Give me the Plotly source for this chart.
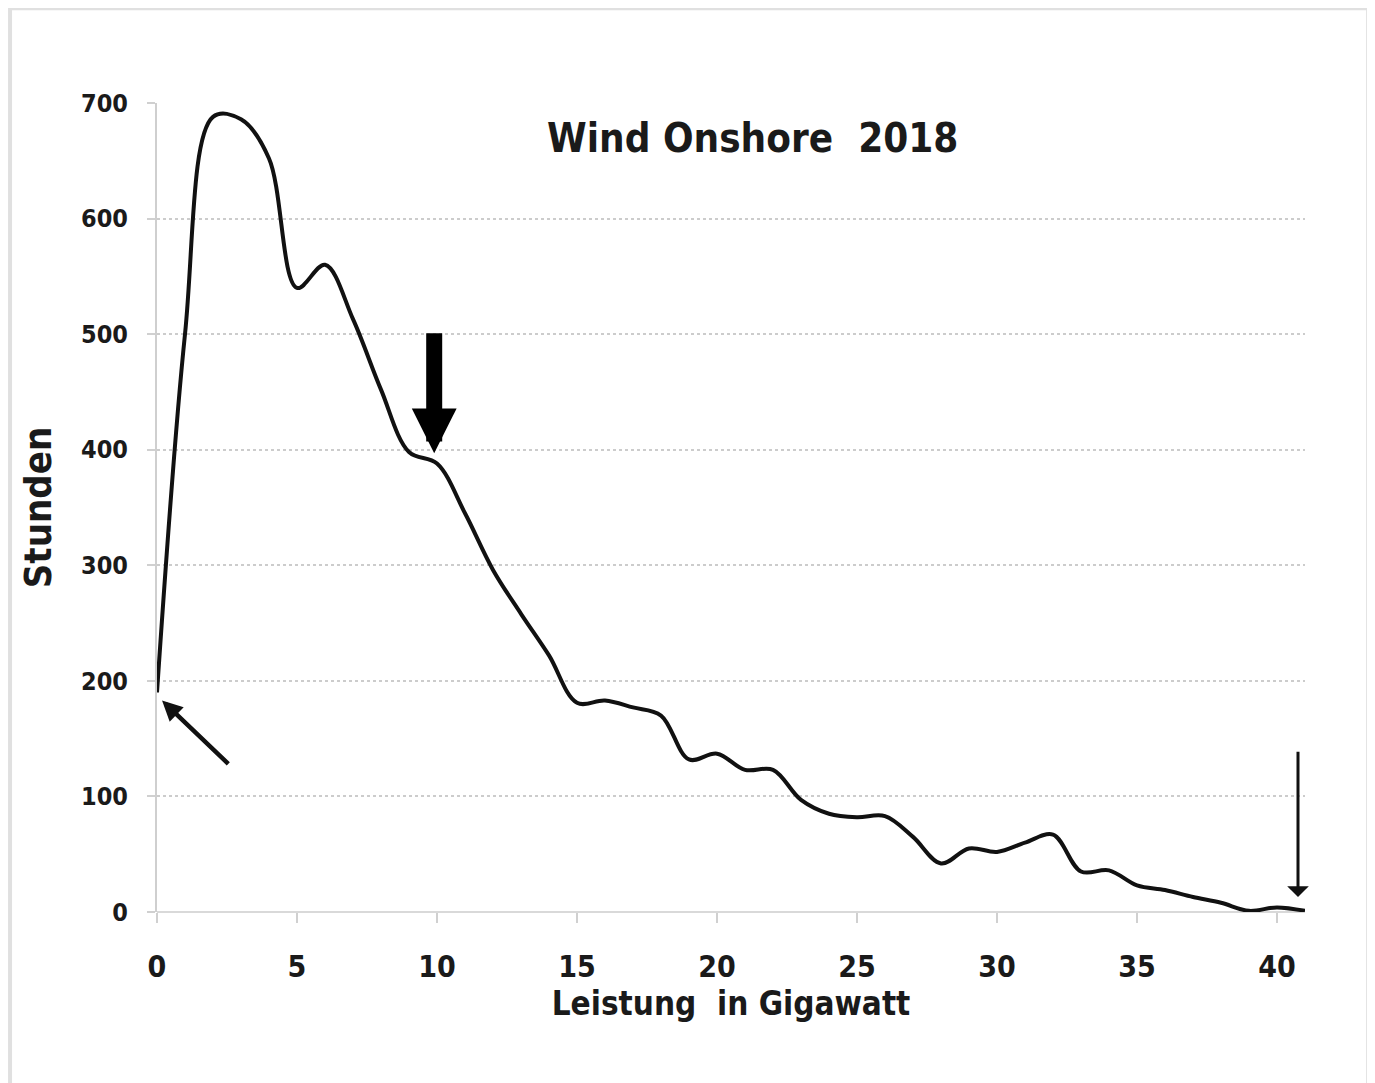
import plotly.graph_objects as go

# Data
leistung_gw = list(range(0, 42))
stunden = [190, 500, 688, 686, 652, 540, 560, 513, 452, 398,
           388, 345, 296, 258, 222, 181, 183, 177, 170, 132,
           137, 123, 123, 97, 85, 82, 83, 65, 42, 55,
           52, 60, 67, 35, 36, 23, 19, 13, 8, 1,
           4, 1]
x_ticks = [0, 5, 10, 15, 20, 25, 30, 35, 40]
y_ticks = [0, 100, 200, 300, 400, 500, 600, 700]

title_text = "Wind Onshore  2018"
x_title = "Leistung  in Gigawatt"
y_title = "Stunden"

FONT = "DejaVu Sans Condensed, Liberation Sans Narrow, sans-serif"

fig = go.Figure()
fig.add_trace(go.Scatter(
    x=leistung_gw, y=stunden, mode="lines",
    line=dict(color="#111111", width=4, shape="spline", smoothing=1.0),
    showlegend=False, hoverinfo="x+y",
))

# Arrows
fig.add_annotation(x=0.18, y=183, ax=2.6, ay=127, xref="x", yref="y",
                   axref="x", ayref="y", showarrow=True, text="",
                   arrowhead=2, arrowwidth=4.5, arrowsize=0.9, arrowcolor="#111111")
fig.add_annotation(x=9.9, y=397, ax=9.9, ay=502, xref="x", yref="y",
                   axref="x", ayref="y", showarrow=True, text="",
                   arrowhead=2, arrowwidth=16, arrowsize=0.56, arrowcolor="#000000")
fig.add_annotation(x=40.75, y=13, ax=40.75, ay=140, xref="x", yref="y",
                   axref="x", ayref="y", showarrow=True, text="",
                   arrowhead=1, arrowwidth=3, arrowsize=1.2, arrowcolor="#111111")

# Title inside plot
fig.add_annotation(x=21.25, y=670, xref="x", yref="y", text=title_text,
                   showarrow=False, font=dict(family=FONT, size=40, color="#1a1a1a", weight="bold"),
                   xanchor="center", yanchor="middle")

# Outer light frame
fig.add_shape(type="rect", xref="paper", yref="paper",
              x0=-0.128, x1=1.055, y0=-0.3, y1=1.117,
              line=dict(color="#e0e0e0", width=4), fillcolor="rgba(0,0,0,0)", layer="below")

fig.update_layout(
    width=1375, height=1083,
    margin=dict(l=149, r=78, t=95, b=179),
    paper_bgcolor="white", plot_bgcolor="white",
    font=dict(family=FONT, color="#1a1a1a"),
    xaxis=dict(
        range=[0, 41], tickmode="array", tickvals=x_ticks,
        ticks="outside", ticklen=10, tickcolor="#d0d0d0", tickwidth=2,
        showgrid=False, zeroline=False, showline=False,
        tickfont=dict(family=FONT, size=30, color="#1a1a1a", weight="bold"),
        title=dict(text=x_title, standoff=8,
                   font=dict(family=FONT, size=33, color="#1a1a1a", weight="bold")),
        ticklabelstandoff=18,
    ),
    yaxis=dict(
        range=[0, 700], tickmode="array", tickvals=y_ticks,
        ticks="outside", ticklen=8, tickcolor="#d0d0d0", tickwidth=2,
        showgrid=True, gridcolor="#cccccc", gridwidth=2, griddash="dot",
        zeroline=True, zerolinecolor="#d9d9d9", zerolinewidth=2,
        showline=True, linecolor="#cfcfcf", linewidth=2,
        tickfont=dict(family=FONT, size=25, color="#1a1a1a", weight="bold"),
        title=dict(text=y_title, standoff=18,
                   font=dict(family=FONT, size=38, color="#1a1a1a", weight="bold")),
        ticklabelstandoff=14,
    ),
)

fig.write_html("out.html")
